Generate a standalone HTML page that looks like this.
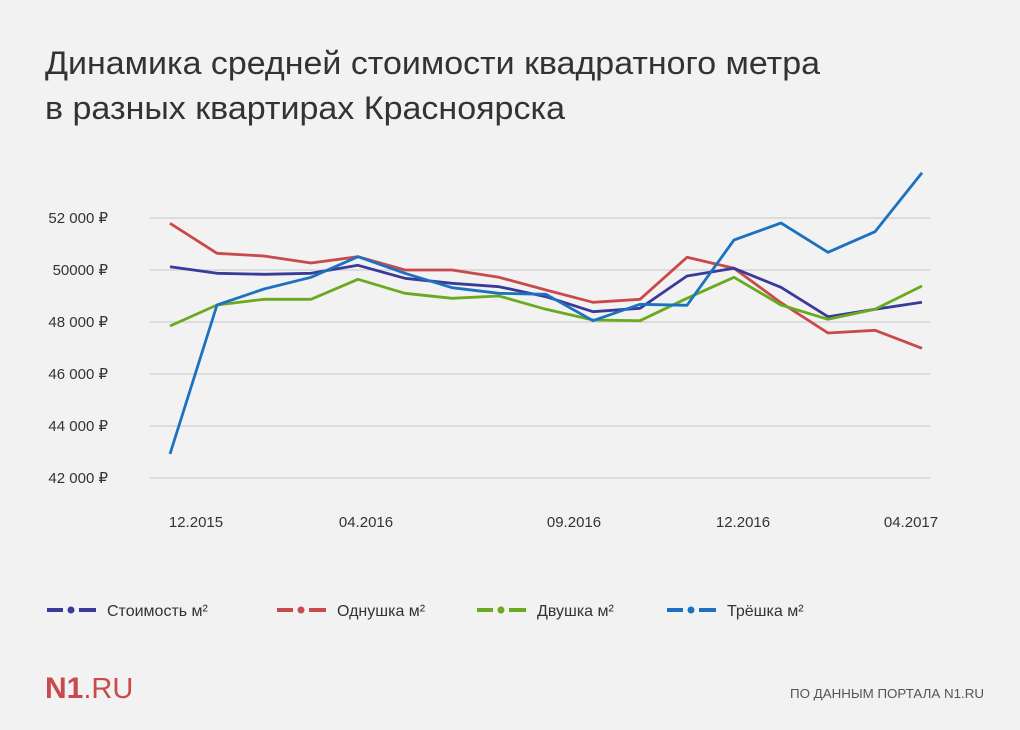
<!DOCTYPE html>
<html><head><meta charset="utf-8"><style>
body{margin:0;background:#f2f2f2;}
svg{display:block;font-family:"Liberation Sans","DejaVu Sans",sans-serif;}
</style></head><body>
<svg width="1020" height="730" viewBox="0 0 1020 730">
<rect width="1020" height="730" fill="#f2f2f2"/>
<text x="45" y="74" font-size="32" fill="#333" textLength="775" lengthAdjust="spacingAndGlyphs">Динамика средней стоимости квадратного метра</text>
<text x="45" y="119" font-size="32" fill="#333" textLength="520" lengthAdjust="spacingAndGlyphs">в разных квартирах Красноярска</text>
<g stroke="#cfcfcf" stroke-width="1.3">
<line x1="150" y1="218" x2="930" y2="218"/><line x1="150" y1="270" x2="930" y2="270"/>
<line x1="150" y1="322" x2="930" y2="322"/><line x1="150" y1="374" x2="930" y2="374"/>
<line x1="150" y1="426" x2="930" y2="426"/><line x1="150" y1="478" x2="930" y2="478"/>
</g>
<g font-size="15" fill="#333" text-anchor="end">
<text x="108" y="223">52 000 ₽</text><text x="108" y="275">50000 ₽</text>
<text x="108" y="327">48 000 ₽</text><text x="108" y="379">46 000 ₽</text>
<text x="108" y="431">44 000 ₽</text><text x="108" y="483">42 000 ₽</text>
</g>
<g font-size="15" fill="#333" text-anchor="middle">
<text x="196" y="527">12.2015</text><text x="366" y="527">04.2016</text>
<text x="574" y="527">09.2016</text><text x="743" y="527">12.2016</text>
<text x="911" y="527">04.2017</text>
</g>
<g fill="none" stroke-width="2.8" stroke-linejoin="round">
<polyline stroke="#c94a4a" points="170,223.3 217,253.3 264,256 311,263 358,256.7 405,270 452,270 499,277.3 546,290 593,302.3 640,299.3 687,257.3 734,268.3 781,302.7 828,333 875,330.3 922,348.3"/>
<polyline stroke="#3a3a9a" points="170,266.7 217,273.3 264,274.3 311,273.3 358,265.3 405,278.3 452,283.3 499,286.7 546,296.7 593,311.7 640,308.3 687,276 734,268.3 781,287.3 828,316.7 875,309.3 922,302.3"/>
<polyline stroke="#6aaa1e" points="170,326 217,305 264,299.3 311,299.3 358,279.3 405,293.3 452,298.3 499,296 546,309.3 593,320 640,320.7 687,298.3 734,277.3 781,305 828,319.3 875,309.3 922,286"/>
<polyline stroke="#1b72c0" points="170,454 217,305 264,289 311,277.3 358,256.7 405,273.3 452,287.7 499,293.3 546,294.3 593,320.7 640,304.3 687,305.3 734,240 781,223 828,252.3 875,231.7 922,172.7"/>
</g>
<g stroke-width="4">
<line x1="47" y1="610" x2="63" y2="610" stroke="#3a3a9a"/><line x1="79" y1="610" x2="96" y2="610" stroke="#3a3a9a"/>
<line x1="277" y1="610" x2="293" y2="610" stroke="#c94a4a"/><line x1="309" y1="610" x2="326" y2="610" stroke="#c94a4a"/>
<line x1="477" y1="610" x2="493" y2="610" stroke="#6aaa1e"/><line x1="509" y1="610" x2="526" y2="610" stroke="#6aaa1e"/>
<line x1="667" y1="610" x2="683" y2="610" stroke="#1b72c0"/><line x1="699" y1="610" x2="716" y2="610" stroke="#1b72c0"/>
</g>
<circle cx="71" cy="610" r="3.5" fill="#3a3a9a"/><circle cx="301" cy="610" r="3.5" fill="#c94a4a"/>
<circle cx="501" cy="610" r="3.5" fill="#6aaa1e"/><circle cx="691" cy="610" r="3.5" fill="#1b72c0"/>
<g font-size="16" fill="#333">
<text x="107" y="616">Стоимость м²</text><text x="337" y="616">Однушка м²</text>
<text x="537" y="616">Двушка м²</text><text x="727" y="616">Трёшка м²</text>
</g>
<text x="45" y="698" font-size="30" fill="#c94a4a"><tspan font-weight="bold">N1</tspan><tspan font-size="29">.RU</tspan></text>
<text x="984" y="698" font-size="13" fill="#555" text-anchor="end" textLength="194" lengthAdjust="spacingAndGlyphs">ПО ДАННЫМ ПОРТАЛА  N1.RU</text>
</svg>
</body></html>
